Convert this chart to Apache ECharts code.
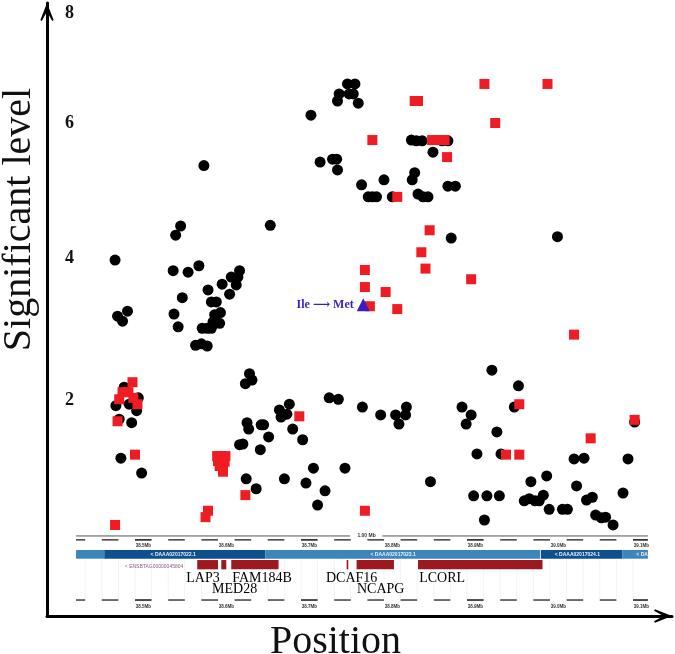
<!DOCTYPE html>
<html>
<head>
<meta charset="utf-8">
<style>html,body{margin:0;padding:0;background:#fff}#c{width:675px;height:654px}</style>
<script src="https://cdn.jsdelivr.net/npm/echarts@6/dist/echarts.min.js"></script>
</head>
<body>
<div id="c"></div>
<script>
const blackPoints = [
[38.653,4.46],[38.545,4.45],[38.539,4.32],[38.466,3.97],[38.536,3.82],[38.554,3.80],[38.567,3.89],[38.616,3.82],
[38.606,3.73],[38.614,3.73],[38.595,3.63],[38.612,3.62],[38.578,3.55],[38.604,3.49],[38.547,3.44],[38.582,3.38],
[38.588,3.38],[38.481,3.25],[38.469,3.18],[38.475,3.11],[38.537,3.21],[38.593,3.23],[38.586,3.20],[38.584,3.10],
[38.592,3.08],[38.542,3.03],[38.571,3.01],[38.577,3.01],[38.582,3.01],[38.563,2.77],[38.570,2.79],[38.577,2.76],
[38.702,6.01],[38.746,6.45],[38.755,6.45],[38.736,6.31],[38.748,6.31],[38.753,6.31],[38.734,6.21],[38.759,6.18],
[38.823,5.66],[38.829,5.65],[38.836,5.65],[38.860,5.65],[38.867,5.65],[38.849,5.49],[38.713,5.35],[38.728,5.39],
[38.733,5.39],[38.734,5.24],[38.827,5.20],[38.824,5.10],[38.790,5.10],[38.763,5.03],[38.867,5.01],[38.876,5.01],
[38.771,4.86],[38.776,4.86],[38.781,4.86],[38.800,4.86],[38.831,4.90],[38.837,4.86],[38.843,4.86],[38.573,5.30],
[38.999,4.30],[38.871,4.28],
[38.477,2.18],[38.494,2.03],[38.467,1.92],[38.483,1.94],[38.492,1.85],[38.471,1.73],[38.486,1.68],[38.473,1.18],[38.498,0.97],
[38.628,2.37],[38.631,2.28],[38.623,2.23],[38.676,1.94],[38.664,1.86],[38.673,1.80],[38.666,1.76],[38.625,1.68],
[38.627,1.59],[38.642,1.65],[38.645,1.65],[38.680,1.59],[38.651,1.48],[38.692,1.44],[38.616,1.37],[38.620,1.38],
[38.641,1.30],[38.724,2.03],[38.735,2.01],[38.764,1.90],[38.786,1.79],[38.804,1.79],[38.817,1.90],[38.816,1.79],
[38.808,1.66],[38.705,1.04],[38.743,1.04],[38.624,0.89],[38.670,0.89],[38.696,0.83],[38.636,0.75],[38.719,0.72],
[38.710,0.52],[38.846,0.85],
[38.920,2.42],[38.952,2.20],[38.884,1.90],[38.895,1.79],[38.889,1.66],[38.947,1.90],[38.926,1.55],[38.902,1.24],
[38.931,1.24],[39.019,1.17],[39.031,1.18],[39.084,1.17],[38.986,0.93],[38.967,0.85],[39.022,0.79],[39.092,1.69],
[38.898,0.65],[38.914,0.65],[38.929,0.65],[39.078,0.69],[38.982,0.66],[38.959,0.58],[38.965,0.61],[38.972,0.58],
[38.977,0.58],[38.989,0.46],[39.005,0.46],[39.011,0.46],[39.034,0.59],[39.041,0.63],[39.045,0.38],[39.052,0.34],
[39.057,0.35],[39.066,0.24],[38.911,0.31]
];
const redPoints = [
[38.487,2.25],[38.475,2.11],[38.482,2.11],[38.471,2.01],[38.488,2.03],[38.493,1.94],[38.469,1.70],[38.490,1.23],
[38.466,0.24],[38.578,0.44],[38.575,0.35],[38.594,1.21],[38.589,1.21],[38.599,1.21],[38.590,1.14],[38.598,1.13],
[38.592,1.07],[38.596,1.07],[38.596,0.99],[38.623,0.66],[38.688,1.77],[38.767,0.44],[38.953,1.94],[38.937,1.23],
[38.953,1.23],[39.039,1.46],[39.092,1.72],
[38.911,6.45],[38.987,6.45],[38.924,5.90],[38.827,6.21],[38.831,6.21],[38.776,5.66],[38.848,5.66],[38.855,5.66],
[38.863,5.66],[38.866,5.42],[38.806,4.86],[38.845,4.39],[38.835,4.08],[38.840,3.85],[38.895,3.70],[38.767,3.83],
[38.767,3.59],[38.792,3.52],[38.806,3.28],[38.773,3.32],[39.019,2.92]
];
const markerPoint = [[38.765,3.34]];
const markerText = "Ile \u27F6 Met";

const yTickValues = [2,4,5.89,7.45];
const yTickLabels = ["2","4","6","8"];
const xName = "Position";
const yName = "Significant level";

const genes = [
["LAP3",38.565,38.590],["MED28",38.594,38.600],["FAM184B",38.606,38.663],
["DCAF16",38.745,38.747],["NCAPG",38.757,38.802],["LCORL",38.831,38.981]
];
const geneLabels = [
["LAP3",38.572,0],["FAM184B",38.643,0],["MED28",38.610,1],
["DCAF16",38.751,0],["NCAPG",38.786,1],["LCORL",38.860,0]
];
const contigs = [
[38.419,38.453,0],[38.453,38.647,1],[38.647,38.978,0],[38.979,39.077,1],[39.077,39.108,0]
];
const contigLabels = [
["< DAAA02017022.1",38.536],["< DAAA02017023.1",38.801],["< DAAA02017024.1",39.023],["< DA",39.101]
];
const scaleSpan = [38.419,39.108];
const scaleGap = [38.749,38.788];
const scaleText = ["1.00 Mb",38.769];
const dashCenters = [38.42,38.46,38.5,38.54,38.58,38.62,38.66,38.7,38.74,38.78,38.82,38.86,38.9,38.94,38.98,39.02,39.06,39.1];
const mbTicks = [38.5,38.6,38.7,38.8,38.9,39.0,39.1];
const mbLabels = ["38.5Mb","38.6Mb","38.7Mb","38.8Mb","38.9Mb","39.0Mb","39.1Mb"];
const ensemblText = ["< ENSBTAG00000045804",38.513];

const SERIF = '"Liberation Serif","DejaVu Serif",serif';
const SANS = '"Liberation Sans","DejaVu Sans",sans-serif';

function renderTrack(params, api) {
  const kids = [];
  const X = v => api.coord([v, 0])[0];
  const Y = v => api.coord([38.5, v])[1];
  const seg = (x1, x2, l, w, c) => kids.push({type:'line', shape:{x1:X(x1),y1:Y(l),x2:X(x2),y2:Y(l)}, style:{stroke:c,lineWidth:w}});
  const txt = (s, x, l, size, c, font, weight) => kids.push({type:'text', x:X(x), y:Y(l), style:{text:s,fill:c,font:(weight||'normal')+' '+size+'px '+font,align:'center',verticalAlign:'middle'}});
  const rect = (x1, x2, l1, l2, c) => kids.push({type:'rect', shape:{x:X(x1),y:Y(l1),width:X(x2)-X(x1),height:Y(l2)-Y(l1)}, style:{fill:c}});

  dashCenters.forEach(c => {
    [c-0.01, c+0.01].forEach(e => {
      if (e >= scaleSpan[0] && e <= scaleSpan[1]) kids.push({type:'line', shape:{x1:X(e),y1:Y(-0.25),x2:X(e),y2:Y(-0.8)}, style:{stroke:'#f3f3f3',lineWidth:1}});
    });
  });
  seg(scaleSpan[0], scaleGap[0], 0.085, 1, '#555');
  seg(scaleGap[1], scaleSpan[1], 0.085, 1, '#555');
  txt(scaleText[0], scaleText[1], 0.085, 5, '#333', SANS, 'bold');
  [0.03,-0.817].forEach(l => dashCenters.forEach(c => {
    const major = mbTicks.some(m => Math.abs(m-c) < 1e-6);
    seg(Math.max(c-0.01, scaleSpan[0]), Math.min(c+0.01, scaleSpan[1]), l, major ? 1.6 : 1.3, '#222');
  }));
  [-0.055,-0.915].forEach(l => mbTicks.forEach((m,i) => txt(mbLabels[i], m, l, 4.5, '#333', SANS, 'bold')));
  contigs.forEach(c => rect(c[0], c[1], -0.113, -0.235, c[2] ? '#0e4f8f' : '#3c86bd'));
  contigLabels.forEach(c => txt(c[0], c[1], -0.174, 5, '#e8f1f8', SANS, 'bold'));
  genes.forEach(g => rect(g[1], g[2], -0.254, -0.385, '#9c1a1e'));
  txt(ensemblText[0], ensemblText[1], -0.35, 5, '#8a5a80', SANS);
  geneLabels.forEach(g => txt(g[0], g[1], g[2] ? -0.67 : -0.51, 14, '#000', SERIF));
  return {type:'group', children:kids};
}

const arrowHead = 'path://M7 0 L14 18 L12.5 19 L7 9 L1.5 19 L0 18 Z';
const chart = echarts.init(document.getElementById('c'));
chart.setOption({
  animation:false,
  backgroundColor:'#fff',
  grid:{left:47,right:3,top:3,bottom:38,outerBoundsMode:'none'},
  xAxis:{
    type:'value',min:38.384,max:39.137,
    name:xName,nameLocation:'middle',nameGap:6,
    nameTextStyle:{fontFamily:SERIF,fontSize:40,color:'#111',verticalAlign:'top',padding:[0,48,0,0]},
    axisLine:{onZero:false,symbol:['none',arrowHead],symbolSize:[14,18],symbolOffset:[0,-9],lineStyle:{color:'#000',width:3}},
    axisTick:{show:false},axisLabel:{show:false},splitLine:{show:false}
  },
  yAxis:{
    type:'value',min:-1.042,max:7.59,
    name:yName,nameLocation:'middle',nameGap:7,
    nameTextStyle:{fontFamily:SERIF,fontSize:40,color:'#111',padding:[0,0,0,180]},
    axisLine:{onZero:false,symbol:['none',arrowHead],symbolSize:[14,18],symbolOffset:[0,-9],lineStyle:{color:'#000',width:3}},
    axisTick:{show:false},splitLine:{show:false},
    axisLabel:{inside:true,margin:18,customValues:yTickValues,
      formatter:v=>yTickLabels[yTickValues.indexOf(v)],
      fontFamily:SERIF,fontWeight:'bold',fontSize:18,color:'#111'}
  },
  series:[
    {type:'custom',silent:true,data:[[38.5,0]],renderItem:renderTrack,clip:false,z:1},
    {type:'scatter',name:'Black',data:blackPoints,symbol:'circle',symbolSize:11,itemStyle:{color:'#000',opacity:1},z:2},
    {type:'scatter',name:'Red',data:redPoints,symbol:'rect',symbolSize:10,itemStyle:{color:'#f01c24',opacity:1},z:3},
    {type:'scatter',name:'Marker',data:markerPoint,symbol:'triangle',symbolSize:13,itemStyle:{color:'#3a1fc0',opacity:1},z:4,
      label:{show:true,position:'left',distance:3,formatter:markerText,color:'#3a1fc0',fontFamily:SERIF,fontWeight:'bold',fontSize:12}}
  ]
});
</script>
</body>
</html>
